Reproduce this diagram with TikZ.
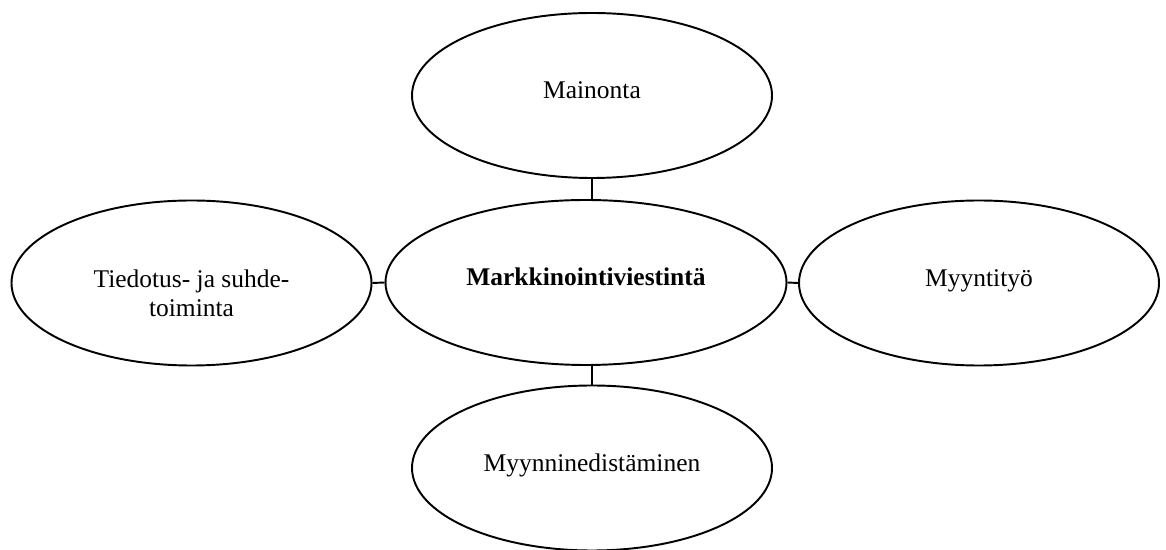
\documentclass[tikz,border=0pt]{standalone}
\usepackage{fontspec}
\setmainfont{Liberation Serif}
\usetikzlibrary{shapes}

\begin{document}
\begin{tikzpicture}[bubble/.style={ellipse, draw=black, line width=1.1pt, minimum width=7.2cm, minimum height=3.3cm, inner sep=0pt, font=\fontsize{14.5}{16.5}\selectfont},
    oneline/.style={text height=10pt, text depth=6.5pt}]
    \useasboundingbox (0,0) rectangle (23.32,11);
    \node[bubble, oneline] (mainonta) at (11.84,9.09) {Mainonta};
    \node[bubble, oneline, minimum width=8.02cm] (viestinta) at (11.72,5.35) {\textbf{Markkinointiviestintä}};
    \node[bubble, text height=13pt, text depth=7.9pt] (tiedotus) at (3.83,5.34) {\begin{tabular}[t]{@{}c@{}}Tiedotus- ja suhde-\\toiminta\end{tabular}};
    \node[bubble, oneline] (myyntityo) at (19.58,5.34) {Myyntityö};
    \node[bubble, oneline] (edistaminen) at (11.84,1.64) {Myynninedistäminen};
    \draw[line width=1.1pt] (mainonta.south) -- (mainonta.south |- viestinta.north);
    \draw[line width=1.1pt] (edistaminen.north |- viestinta.south) -- (edistaminen.north);
    \draw[line width=1.1pt] (tiedotus.east) -- (viestinta.west);
    \draw[line width=1.1pt] (viestinta.east) -- (myyntityo.west);
\end{tikzpicture}
\end{document}
